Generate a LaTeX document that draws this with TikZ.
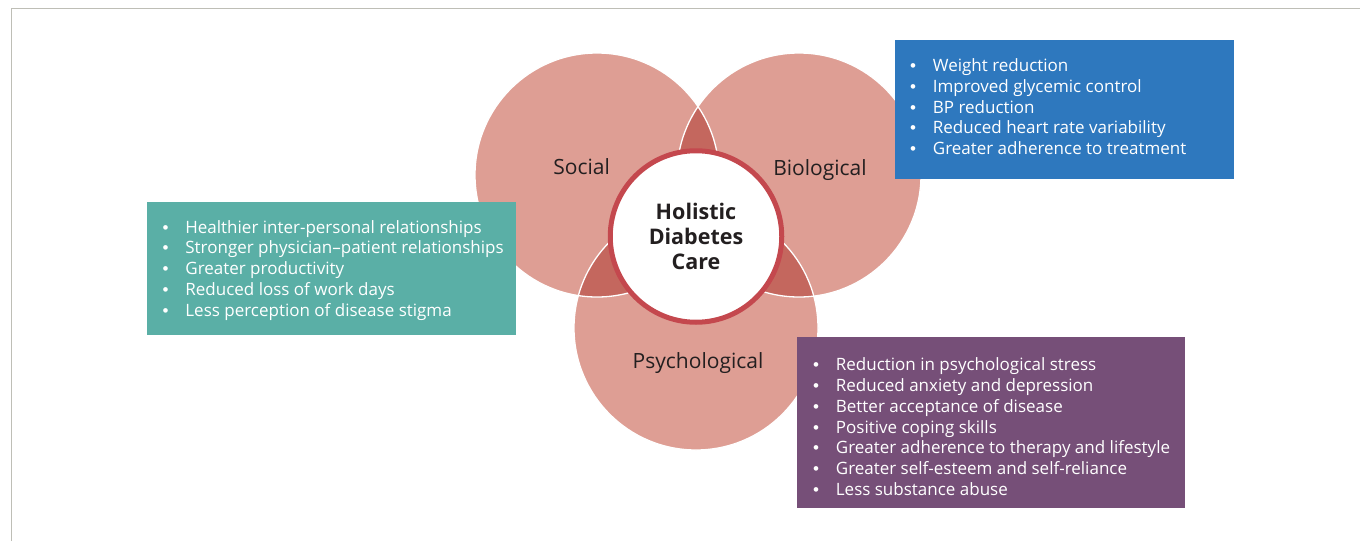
\documentclass[tikz,border=0pt]{standalone}
\usepackage{fontspec}
\setmainfont{Open Sans}
\newfontfamily\bulfont{Liberation Sans}
\definecolor{lightc}{RGB}{222,158,148}
\definecolor{darkc}{RGB}{196,103,94}
\definecolor{ringc}{RGB}{196,72,78}
\definecolor{bluec}{RGB}{46,120,190}
\definecolor{tealc}{RGB}{90,175,166}
\definecolor{purplec}{RGB}{118,79,120}
\definecolor{framec}{RGB}{190,190,182}
\definecolor{textc}{RGB}{35,31,32}
\newcommand{\bul}{\makebox[22.7pt][l]{\bulfont •}}
\begin{document}
\begin{tikzpicture}[x=1pt,y=-1pt,
  petal/.style={fill=lightc},
  lens/.style={fill=darkc},
  rim/.style={draw=white,line width=1.3pt},
  lbl/.style={text=textc,font=\fontsize{21}{25}\selectfont,inner sep=0pt},
  listbox/.style={inner sep=0pt,outer sep=0pt},
  listtext/.style={text=white,align=left,inner sep=0pt,anchor=west,font=\fontsize{17}{20.8}\selectfont}
]
\useasboundingbox (0,0) rectangle (1360,541);
% frame
\coordinate (f1) at (11.7,541);
\coordinate (f2) at (11.7,8.7);
\coordinate (f3) at (1360,8.7);
\draw[framec,line width=1.3pt] (f1) -- (f2) -- (f3);
% circles
\coordinate (S) at (597,175);
\coordinate (B) at (799,175);
\coordinate (P) at (696,328);
\fill[petal] (S) circle (122);
\fill[petal] (B) circle (122);
\fill[petal] (P) circle (122);
\begin{scope}
  \clip (S) circle (122);
  \fill[lens] (B) circle (122);
  \fill[lens] (P) circle (122);
\end{scope}
\begin{scope}
  \clip (B) circle (122);
  \fill[lens] (P) circle (122);
\end{scope}
\draw[rim] (S) circle (122);
\draw[rim] (B) circle (122);
\draw[rim] (P) circle (122);
% labels
\node[lbl] (social) at (581.7,166.7) {Social};
\node[lbl] (bio) at (820,170) {Biological};
\node[lbl] (psy) at (698,363) {Psychological};
% center
\node[circle,fill=white,draw=ringc,line width=5pt,minimum size=171.5pt,inner sep=0pt,
  text=textc,align=center,font=\bfseries\fontsize{21.5}{25.3}\selectfont] (hub) at (696,236.5)
  {Holistic\\Diabetes\\Care};
% boxes
\path[fill=bluec] (895,40) rectangle (1234,178.7);
\node[listbox] (bluebox) at (1064.5,109.3) {};
\node[listtext] (bluelist) at (910,106.7) {%
\bul Weight reduction\\
\bul Improved glycemic control\\
\bul BP reduction\\
\bul Reduced heart rate variability\\
\bul Greater adherence to treatment};
\path[fill=tealc] (146.7,201.7) rectangle (516,335);
\node[listbox] (tealbox) at (331.3,268.3) {};
\node[listtext] (teallist) at (162.5,270.3) {%
\bul Healthier inter-personal relationships\\
\bul Stronger physician–patient relationships\\
\bul Greater productivity\\
\bul Reduced loss of work days\\
\bul Less perception of disease stigma};
\path[fill=purplec] (797.3,336.7) rectangle (1185,508);
\node[listbox] (purplebox) at (991,422.3) {};
\node[listtext] (purplelist) at (813,426.7) {%
\bul Reduction in psychological stress\\
\bul Reduced anxiety and depression\\
\bul Better acceptance of disease\\
\bul Positive coping skills\\
\bul Greater adherence to therapy and lifestyle\\
\bul Greater self-esteem and self-reliance\\
\bul Less substance abuse};
\end{tikzpicture}
\end{document}
